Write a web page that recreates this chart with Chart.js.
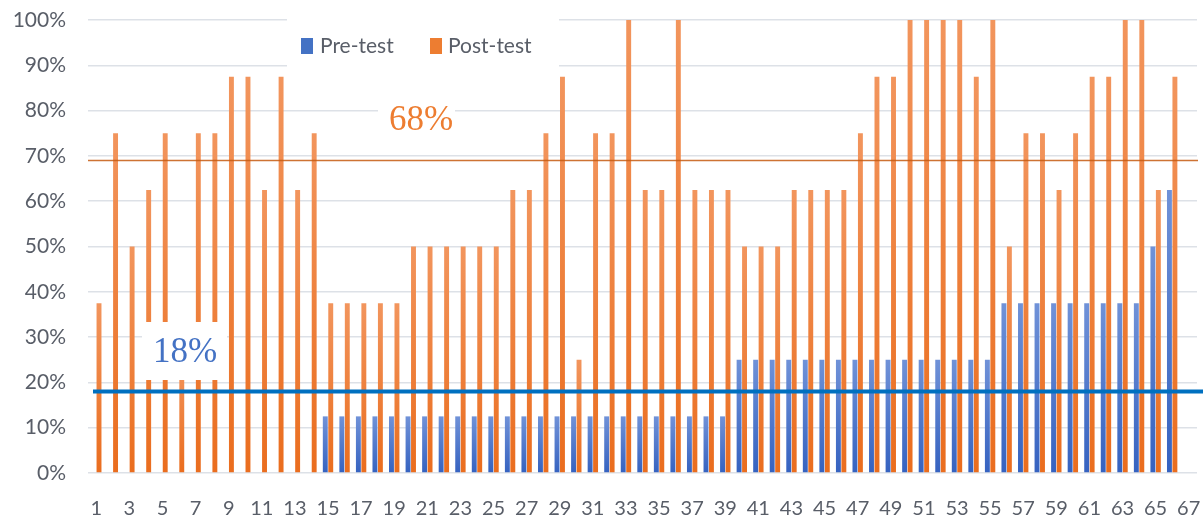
<!DOCTYPE html>
<html>
<head>
<meta charset="utf-8">
<script src="https://cdn.jsdelivr.net/npm/chart.js@4.4.0/dist/chart.umd.min.js"></script>
<style>
html, body { margin: 0; padding: 0; background: #fff; }
#wrap { width: 1203px; height: 522px; }
</style>
</head>
<body>
<div id="wrap"><canvas id="scoreChart" width="1203" height="522"></canvas></div>
<script>
"use strict";

// Student numbers (x axis)
const students = ['1','2','3','4','5','6','7','8','9','10','11','12','13','14','15','16','17','18','19','20',
    '21','22','23','24','25','26','27','28','29','30','31','32','33','34','35','36','37','38','39','40',
    '41','42','43','44','45','46','47','48','49','50','51','52','53','54','55','56','57','58','59','60',
    '61','62','63','64','65','66','67'];

// Scores in %
const preTest = [0, 0, 0, 0, 0, 0, 0, 0, 0, 0, 0, 0, 0, 0,
    12.5, 12.5, 12.5, 12.5, 12.5, 12.5, 12.5, 12.5, 12.5, 12.5, 12.5, 12.5, 12.5, 12.5, 12.5, 12.5,
    12.5, 12.5, 12.5, 12.5, 12.5, 12.5, 12.5, 12.5, 12.5,
    25, 25, 25, 25, 25, 25, 25, 25, 25, 25, 25, 25, 25, 25, 25, 25,
    37.5, 37.5, 37.5, 37.5, 37.5, 37.5, 37.5, 37.5, 37.5,
    50, 62.5, null];

const postTest = [37.5, 75, 50, 62.5, 75, 25, 75, 75, 87.5, 87.5, 62.5, 87.5, 62.5, 75,
    37.5, 37.5, 37.5, 37.5, 37.5, 50, 50, 50, 50, 50, 50, 62.5, 62.5, 75, 87.5, 25,
    75, 75, 100, 62.5, 62.5, 100, 62.5, 62.5, 62.5, 50, 50, 50, 62.5, 62.5, 62.5, 62.5,
    75, 87.5, 87.5, 100, 100, 100, 100, 87.5, 100, 50, 75, 75, 62.5, 75, 87.5, 87.5,
    100, 100, 62.5, 87.5, null];

// Average lines (where they sit) and their labels
const preLine = 18;
const postLine = 69;
const preLabel = '18%';
const postLabel = '68%';

const yTicks = [0, 10, 20, 30, 40, 50, 60, 70, 80, 90, 100];

const textGray = '#595e68';

function barFill(light, dark) {
    return (c) => {
        const chart = c.chart;
        const area = chart.chartArea;
        if (!area || c.raw == null) return dark;
        const top = chart.scales.y.getPixelForValue(c.raw);
        const g = chart.ctx.createLinearGradient(0, top, 0, area.bottom);
        g.addColorStop(0, light);
        g.addColorStop(1, dark);
        return g;
    };
}

// white boxes, legend, average lines and their labels
const overlay = {
    id: 'overlay',
    afterDatasetsDraw(chart) {
        const { ctx, scales: { y } } = chart;
        ctx.save();

        ctx.fillStyle = '#ffffff';
        ctx.fillRect(287, 8, 272, 66);
        ctx.fillRect(378, 95, 77, 48);
        ctx.fillRect(142, 322, 85, 58);

        // legend
        const ds = chart.data.datasets;
        ctx.font = '21px Lato';
        ctx.textBaseline = 'middle';
        ctx.textAlign = 'left';
        ctx.fillStyle = '#4472C4';
        ctx.fillRect(301, 38, 12, 16);
        ctx.fillStyle = textGray;
        ctx.fillText(ds[0].label, 320, 46);
        ctx.fillStyle = '#ED7D31';
        ctx.fillRect(430, 38, 12, 16);
        ctx.fillStyle = textGray;
        ctx.fillText(ds[1].label, 448, 46);

        // average lines
        let py = y.getPixelForValue(postLine);
        ctx.strokeStyle = 'rgba(197, 90, 17, 0.85)';
        ctx.lineWidth = 1.5;
        ctx.beginPath();
        ctx.moveTo(88, py);
        ctx.lineTo(1198, py);
        ctx.stroke();

        py = y.getPixelForValue(preLine);
        ctx.strokeStyle = '#0070C0';
        ctx.lineWidth = 4;
        ctx.beginPath();
        ctx.moveTo(93, py);
        ctx.lineTo(1203, py);
        ctx.stroke();

        // labels
        ctx.font = '35px "Liberation Serif"';
        ctx.textAlign = 'center';
        ctx.fillStyle = '#ED7D31';
        ctx.fillText(postLabel, 421, 121);
        ctx.fillStyle = '#4472C4';
        ctx.fillText(preLabel, 185, 353);

        ctx.restore();
    }
};

const ctx = document.getElementById('scoreChart').getContext('2d');

const scoreChart = new Chart(ctx, {
    type: 'bar',
    data: {
        labels: students,
        datasets: [{
            label: 'Pre-test',
            data: preTest,
            backgroundColor: barFill('#7092d8', '#3562c0'),
            categoryPercentage: 0.66,
            barPercentage: 0.9
        }, {
            label: 'Post-test',
            data: postTest,
            backgroundColor: barFill('#f2955d', '#ea6d1e'),
            categoryPercentage: 0.66,
            barPercentage: 0.9
        }]
    },
    options: {
        responsive: false,
        animation: false,
        layout: { padding: { top: 20, right: 6, left: 0, bottom: 0 } },
        plugins: {
            legend: { display: false },
            tooltip: { enabled: false }
        },
        scales: {
            x: {
                grid: { display: false, drawTicks: false },
                border: { display: false },
                afterFit: (scale) => {
                    scale.height = 49;
                    scale.paddingLeft = 0;
                    scale.paddingRight = 0;
                },
                ticks: {
                    autoSkip: false,
                    maxRotation: 0,
                    padding: 24,
                    color: textGray,
                    font: { family: 'Lato', size: 20 },
                    callback: function (v, i) {
                        return i % 2 === 0 ? this.getLabelForValue(v) : '';
                    }
                }
            },
            y: {
                min: 0,
                max: 100,
                afterFit: (scale) => {
                    scale.width = 88;
                    scale.paddingTop = 0;
                    scale.paddingBottom = 0;
                },
                afterBuildTicks: (scale) => { scale.ticks = yTicks.map(v => ({ value: v })); },
                grid: { color: '#dde1e7', lineWidth: 1.5, drawTicks: false },
                border: { display: false },
                ticks: {
                    padding: 22,
                    color: textGray,
                    font: { family: 'Lato', size: 21 },
                    callback: (v) => v + '%'
                }
            }
        }
    },
    plugins: [overlay]
});
</script>
</body>
</html>
